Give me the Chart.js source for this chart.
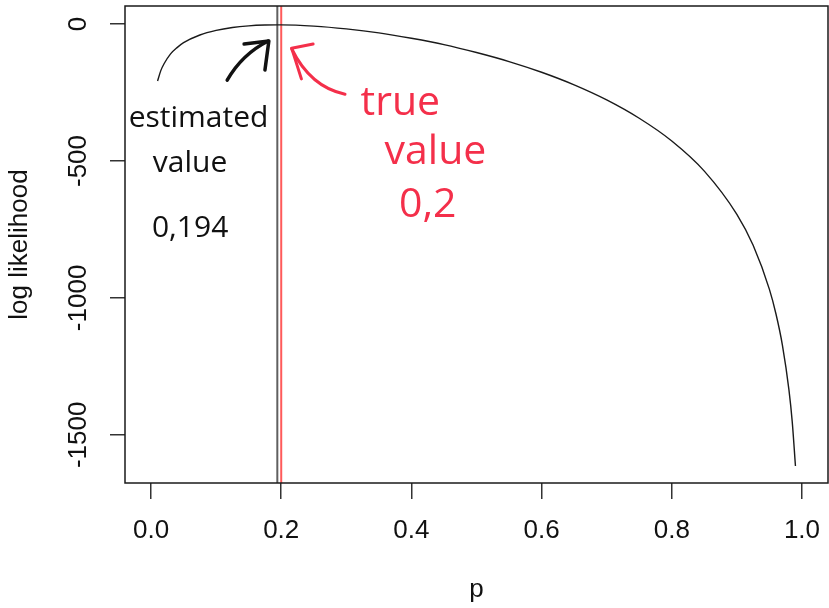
<!DOCTYPE html>
<html>
<head>
<meta charset="utf-8">
<script src="https://cdn.jsdelivr.net/npm/chart.js@4.4.1/dist/chart.umd.min.js"></script>
<style>
  html, body { margin: 0; padding: 0; background: #ffffff; }
  #wrap { width: 829px; height: 608px; }
</style>
</head>
<body>
<div id="wrap"><canvas id="c" width="829" height="608"></canvas></div>
<script>
// ---- data ----
const pValues = [0.01, 0.015, 0.02, 0.03, 0.04, 0.05, 0.075, 0.1, 0.125, 0.15, 0.175, 0.194, 0.2, 0.25, 0.3, 0.35, 0.4, 0.45, 0.5, 0.55, 0.6, 0.65, 0.7, 0.75, 0.8, 0.85, 0.9, 0.925, 0.95, 0.96, 0.97, 0.98, 0.985, 0.99];
const logLik  = [-208, -170, -145, -109, -86, -68, -40, -23, -12.5, -6.5, -3.6, -3, -3, -7.4, -17.5, -32, -52, -75, -104, -137, -176, -222, -277, -344, -427, -537, -695, -808, -969, -1058, -1173, -1336, -1451, -1614];
const estimatedP = 0.194;
const trueP = 0.2;
const xTicks = [0, 0.2, 0.4, 0.6, 0.8, 1.0];
const yTicks = [0, -500, -1000, -1500];
const xRange = [-0.04, 1.04];
const yRange = [-1676, 66];

// handwritten notes, anchored in data coordinates
const blackNotes = [
  { text: 'estimated', p: 0.073, y: -343 },
  { text: 'value',     p: 0.060, y: -508 },
  { text: '0,194',     p: 0.060, y: -745 }
];
const redNotes = [
  { text: 'true',  p: 0.383, y: -289 },
  { text: 'value', p: 0.437, y: -467 },
  { text: '0,2',   p: 0.425, y: -661 }
];

const curve = pValues.map((p, i) => ({ x: p, y: logLik[i] }));

const annotate = {
  id: 'annotate',
  afterDatasetsDraw(chart) {
    const { ctx, chartArea: a, scales: { x, y } } = chart;
    const X = v => x.getPixelForValue(v), Y = v => y.getPixelForValue(v);
    ctx.save();
    // R style box
    ctx.strokeStyle = '#1a1a1a';
    ctx.lineWidth = 1.5;
    ctx.strokeRect(a.left, a.top, a.right - a.left, a.bottom - a.top);

    ctx.lineCap = 'round';
    ctx.lineJoin = 'round';
    // black arrow
    ctx.strokeStyle = '#111';
    ctx.lineWidth = 3.5;
    ctx.beginPath();
    ctx.moveTo(X(0.117), Y(-205));
    ctx.quadraticCurveTo(X(0.14), Y(-110), X(0.180), Y(-62));
    ctx.stroke();
    ctx.beginPath();
    ctx.moveTo(X(0.143), Y(-73));
    ctx.lineTo(X(0.181), Y(-62));
    ctx.lineTo(X(0.175), Y(-168));
    ctx.stroke();
    // red arrow
    const red = '#f42f4a';
    ctx.strokeStyle = red;
    ctx.lineWidth = 3;
    ctx.beginPath();
    ctx.moveTo(X(0.298), Y(-256));
    ctx.quadraticCurveTo(X(0.245), Y(-230), X(0.216), Y(-90));
    ctx.stroke();
    ctx.beginPath();
    ctx.moveTo(X(0.249), Y(-73));
    ctx.lineTo(X(0.216), Y(-88));
    ctx.lineTo(X(0.231), Y(-200));
    ctx.stroke();

    ctx.textAlign = 'center';
    ctx.textBaseline = 'middle';
    ctx.fillStyle = '#111';
    ctx.font = '500 30px "Open Sans"';
    blackNotes.forEach(n => ctx.fillText(n.text, X(n.p), Y(n.y)));
    ctx.fillStyle = red;
    ctx.font = '500 41px "Open Sans"';
    redNotes.forEach(n => ctx.fillText(n.text, X(n.p), Y(n.y)));
    ctx.restore();
  }
};

const font = { family: '"Liberation Sans", Arial, sans-serif', size: 26 };
const noPad = s => { s.paddingTop = 0; s.paddingBottom = 0; s.paddingLeft = 0; s.paddingRight = 0; };

new Chart(document.getElementById('c'), {
  type: 'line',
  data: {
    datasets: [
      { data: curve, borderColor: '#1a1a1a', borderWidth: 1.4, pointRadius: 0, cubicInterpolationMode: 'monotone', fill: false },
      { data: [{ x: estimatedP, y: yRange[0] }, { x: estimatedP, y: yRange[1] }], borderColor: '#606060', borderWidth: 2, pointRadius: 0 },
      { data: [{ x: trueP, y: yRange[0] }, { x: trueP, y: yRange[1] }], borderColor: '#ff5a5a', borderWidth: 2, pointRadius: 0 }
    ]
  },
  options: {
    responsive: false,
    animation: false,
    devicePixelRatio: 1,
    layout: { autoPadding: false, padding: { top: 6, right: 1, left: 0, bottom: 0 } },
    plugins: { legend: { display: false }, tooltip: { enabled: false } },
    scales: {
      x: {
        type: 'linear',
        min: xRange[0], max: xRange[1],
        afterBuildTicks: s => { s.ticks = xTicks.map(v => ({ value: v })); },
        afterFit: s => { s.height = 125; noPad(s); },
        grid: { drawOnChartArea: false, drawTicks: true, tickLength: 16, color: '#333', lineWidth: 1.5 },
        border: { display: false },
        ticks: { font, color: '#111', padding: 16, maxRotation: 0, minRotation: 0, autoSkip: false,
                 callback: v => Number(v).toFixed(1) },
        title: { display: true, text: 'p', font, color: '#111', padding: { top: 0, bottom: 3 } }
      },
      y: {
        type: 'linear',
        min: yRange[0], max: yRange[1],
        afterBuildTicks: s => { s.ticks = yTicks.map(v => ({ value: v })); },
        afterFit: s => { s.width = 125; noPad(s); },
        grid: { drawOnChartArea: false, drawTicks: true, tickLength: 15, color: '#333', lineWidth: 1.5 },
        border: { display: false },
        ticks: { font, color: '#111', padding: -2, minRotation: 90, maxRotation: 90, crossAlign: 'center', autoSkip: false,
                 callback: v => String(v) },
        title: { display: true, text: 'log likelihood', font, color: '#111', padding: { top: 4, bottom: 0 } }
      }
    }
  },
  plugins: [annotate]
});
</script>
</body>
</html>
